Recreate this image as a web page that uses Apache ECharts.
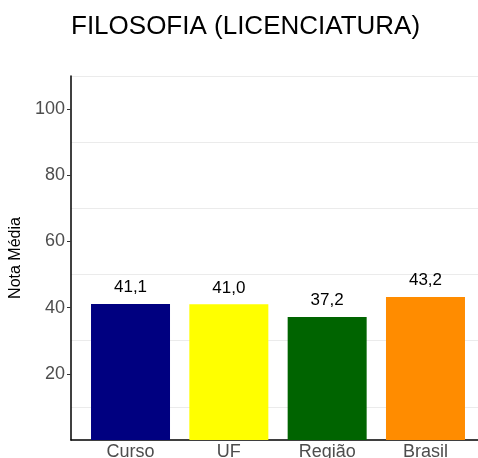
<!DOCTYPE html>
<html>
<head>
<meta charset="utf-8">
<title>Filosofia (Licenciatura)</title>
<script src="https://cdn.jsdelivr.net/npm/echarts@6/dist/echarts.min.js"></script>
<style>
	html, body { margin: 0; padding: 0; background: #fff; }
	#chart { width: 478px; height: 458px; }
</style>
</head>
<body>
<div id="chart"></div>
<script>
// dados do gráfico
const categorias = ['Curso', 'UF', 'Região', 'Brasil'];
const notas = [41.1, 41.0, 37.2, 43.2];
const yTicks = [20, 40, 60, 80, 100];
const corBarras = ['#000080', '#ffff00', '#006400', '#ff8c00'];

const fonte = '"Liberation Sans", Arial, Helvetica, sans-serif';
const yMax = 110;

let chart = echarts.init(document.getElementById('chart'), null, { renderer: 'canvas' });

let opt = {
	backgroundColor: '#fff',
	animation: false,
	title: {
		text: 'FILOSOFIA (LICENCIATURA)',
		left: 66,
		top: 9,
		textStyle: { fontFamily: fonte, fontSize: 26, fontWeight: 'normal', color: '#000' }
	},
	grid: [
		// moldura: eixos e linhas de grade
		{ left: 71, width: 413, top: 76, bottom: 18, outerBoundsMode: 'none' },
		// barras (expansão discreta do ggplot)
		{ left: 81.35, width: 393.3, top: 76, bottom: 18, outerBoundsMode: 'none' }
	],
	xAxis: [
		{
			type: 'value', gridIndex: 0, min: 0, max: 1,
			axisLine: { show: true, lineStyle: { color: '#000', width: 1.5 } },
			axisTick: { show: false },
			axisLabel: { show: false },
			splitLine: { show: false }
		},
		{
			type: 'category', gridIndex: 1,
			data: categorias,
			axisLine: { show: false },
			axisTick: { show: false },
			axisLabel: { margin: 3, fontFamily: fonte, fontSize: 18, color: '#4d4d4d' }
		}
	],
	yAxis: [
		{	// linhas de grade em 10, 30, 50...
			type: 'value', gridIndex: 0, position: 'left', offset: 0,
			min: 0, max: yMax, interval: 10,
			axisLine: { show: false },
			axisTick: { show: false },
			axisLabel: { show: false },
			splitLine: { show: true, lineStyle: { color: ['rgba(0,0,0,0)', '#ebebeb'], width: 1 } }
		},
		{	// eixo visível com rótulos
			type: 'value', gridIndex: 0, position: 'left', offset: 0,
			min: 0, max: yMax,
			name: 'Nota Média',
			nameLocation: 'middle',
			nameGap: 40,
			nameTextStyle: { fontFamily: fonte, fontSize: 16, color: '#000' },
			axisLine: { show: true, lineStyle: { color: '#000', width: 1.5 } },
			axisTick: { show: true, length: 4, customValues: yTicks, lineStyle: { color: '#333' } },
			axisLabel: { margin: 6, customValues: yTicks, fontFamily: fonte, fontSize: 18, color: '#4d4d4d' },
			splitLine: { show: false }
		},
		{
			type: 'value', gridIndex: 1, min: 0, max: yMax, show: false
		}
	],
	series: [{
		type: 'bar',
		xAxisIndex: 1,
		yAxisIndex: 2,
		data: notas.map((v, i) => ({ value: v, itemStyle: { color: corBarras[i] } })),
		barWidth: 79,
		label: {
			show: true,
			position: 'top',
			distance: 8,
			fontFamily: fonte,
			fontSize: 17,
			color: '#000',
			formatter: p => p.value.toFixed(1).replace('.', ',')
		}
	}]
};

chart.setOption(opt);
</script>
</body>
</html>
